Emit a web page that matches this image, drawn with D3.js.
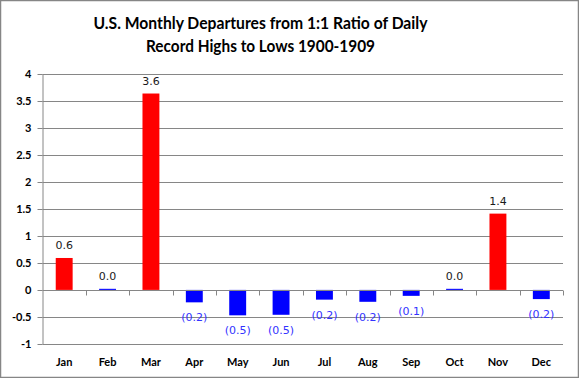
<!DOCTYPE html>
<html><head><meta charset="utf-8">
<script src="https://cdn.jsdelivr.net/npm/d3@7"></script>
<style>body{margin:0;background:#fff}svg{display:block}</style>
</head><body>
<script>
const months = ["Jan","Feb","Mar","Apr","May","Jun","Jul","Aug","Sep","Oct","Nov","Dec"];
const departures = [0.59, 0.02, 3.63, -0.23, -0.47, -0.46, -0.18, -0.22, -0.11, 0.02, 1.41, -0.17];
const dataLabels = ["0.6","0.0","3.6","(0.2)","(0.5)","(0.5)","(0.2)","(0.2)","(0.1)","0.0","1.4","(0.2)"];
const yTicks = [-1,-0.5,0,0.5,1,1.5,2,2.5,3,3.5,4];
const titleLines = ["U.S. Monthly Departures from 1:1 Ratio of Daily","Record Highs to Lows 1900-1909"];

const W = 579, H = 378;
const svg = d3.select("body").append("svg").attr("width", W).attr("height", H);
svg.append("rect").attr("x",0.5).attr("y",0.5).attr("width",W-1).attr("height",H-1)
  .attr("fill","#fff").attr("stroke","#868686").attr("stroke-width",1.5);

const plot = {left: 42.5, right: 563, top: 73.5, bottom: 344};
const x = d3.scaleBand().domain(months).range([plot.left, plot.right]).paddingInner(0.61).paddingOuter(0.305);
const xb = d3.scaleBand().domain(months).range([plot.left, plot.right]);
const y = d3.scaleLinear().domain([-1,4]).range([plot.bottom, plot.top]);

// title
const titleWidths = [334, 229];
svg.append("g").selectAll("text").data(titleLines).join("text")
  .attr("x", 260.5).attr("y",(d,i)=>29+i*23)
  .attr("text-anchor","middle").attr("font-family","Lato, 'Open Sans', sans-serif")
  .attr("font-weight","bold").attr("font-size",17.5).attr("fill","#000")
  .attr("textLength",(d,i)=>titleWidths[i]).attr("lengthAdjust","spacingAndGlyphs")
  .text(d=>d);

// gridlines
svg.append("g").selectAll("line").data(yTicks.filter(t=>t!==0)).join("line")
  .attr("x1",plot.left).attr("x2",plot.right)
  .attr("y1",d=>Math.round(y(d))+0.5).attr("y2",d=>Math.round(y(d))+0.5)
  .attr("stroke","#868686").attr("stroke-width",1);

// y axis
const yAxis = d3.axisLeft(y).tickValues(yTicks).tickSize(5).tickSizeOuter(0)
  .tickFormat(d=>String(d));
const gy = svg.append("g").attr("transform",`translate(${plot.left},0)`).call(yAxis);
gy.select(".domain").attr("stroke","#868686");
gy.selectAll(".tick line").attr("stroke","#868686");
gy.selectAll(".tick text").attr("font-family","Lato, sans-serif").attr("font-weight","bold")
  .attr("font-size",11).attr("fill","#000").attr("x",-11);
gy.selectAll(".tick").attr("transform",d=>`translate(0,${Math.round(y(d))+0.5})`);

// bars
svg.append("g").selectAll("rect").data(months).join("rect")
  .attr("x",(d)=>x(d))
  .attr("width",x.bandwidth())
  .attr("y",(d,i)=>y(Math.max(0,departures[i])))
  .attr("height",(d,i)=>Math.max(1,Math.abs(y(departures[i])-y(0))))
  .attr("fill",(d,i)=>departures[i]>=0.05?"#ff0000":"#0000ff");

// x axis at zero
const y0 = Math.round(y(0))+0.5;
const xAxis = d3.axisBottom(xb).tickSize(0).tickSizeOuter(0);
svg.append("line").attr("x1",plot.left).attr("x2",plot.right).attr("y1",y0).attr("y2",y0)
  .attr("stroke","#868686");
svg.append("g").selectAll("line").data(months.map((m,i)=>i+1)).join("line")
  .attr("x1",i=>Math.round(plot.left+i*xb.step())+0.5).attr("x2",i=>Math.round(plot.left+i*xb.step())+0.5)
  .attr("y1",y0).attr("y2",y0+5).attr("stroke","#868686");
const gx = svg.append("g").attr("transform",`translate(0,${plot.bottom})`).call(xAxis);
gx.select(".domain").remove();
gx.selectAll(".tick text").attr("font-family","Lato, sans-serif").attr("font-weight","bold")
  .attr("font-size",11).attr("fill","#000").attr("dy","0").attr("y",22);

// data labels
svg.append("g").selectAll("text").data(months).join("text")
  .attr("x",d=>x(d)+x.bandwidth()/2)
  .attr("y",(d,i)=>departures[i]>=0 ? y(departures[i])-9 : y(departures[i])+19)
  .attr("text-anchor","middle").attr("font-family","'DejaVu Sans', sans-serif")
  .attr("font-size",11)
  .attr("fill",(d,i)=>departures[i]>=0?"#1a1a1a":"#3333ff")
  .text((d,i)=>dataLabels[i]);
</script>
</body></html>
